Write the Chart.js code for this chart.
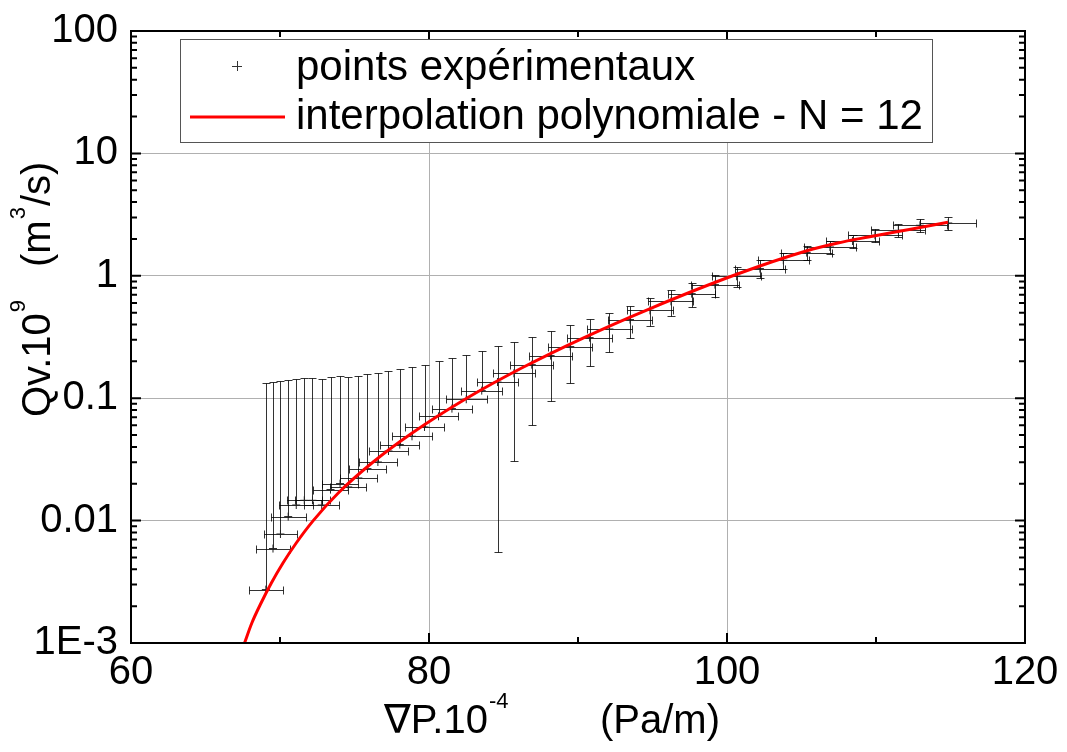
<!DOCTYPE html>
<html>
<head>
<meta charset="utf-8">
<title>Qv vs gradient de pression</title>
<script src="https://cdn.jsdelivr.net/npm/chart.js@4.4.0/dist/chart.umd.min.js"></script>
<style>
  html, body { margin: 0; padding: 0; background: #fff; }
  #wrap { width: 1067px; height: 752px; }
</style>
</head>
<body>
<div id="wrap"><canvas id="qvChart" width="1067" height="752"></canvas></div>
<script>
/* ========================================
   Data
   ======================================== */

// Experimental points: pressure gradient (x) and flow rate (y)
const gradP = [69.05, 69.53, 70.03, 70.55, 71.09, 71.63, 72.18, 72.80, 73.39, 74.03,
               74.58, 75.26, 75.87, 76.57, 77.28, 78.04, 78.86, 79.70, 80.64, 81.54,
               82.50, 83.54, 84.60, 85.70, 86.90, 88.16, 89.48, 90.78, 92.11, 93.49,
               94.83, 96.24, 97.63, 99.19, 100.65, 102.21, 103.78, 105.35, 106.91, 108.43,
               109.93, 111.50, 112.95, 114.85];
const flow = [0.00273, 0.00591, 0.00777, 0.01078, 0.01341, 0.01465, 0.01465, 0.01341, 0.01792, 0.02006,
              0.01882, 0.02229, 0.02659, 0.03012, 0.03703, 0.04178, 0.04883, 0.0582, 0.0711, 0.0822,
              0.098, 0.1153, 0.1355, 0.1597, 0.188, 0.2229, 0.2639, 0.3126, 0.3675, 0.4385,
              0.522, 0.619, 0.715, 0.847, 0.991, 1.145, 1.339, 1.547, 1.719, 1.924,
              2.143, 2.354, 2.586, 2.700];

// Half widths of the error bars
const gradPErr = [1.13, 1.16, 1.13, 1.17, 1.15, 1.18, 1.18, 1.19, 1.20, 1.22,
                  1.22, 1.23, 1.24, 1.26, 1.29, 1.31, 1.32, 1.33, 1.33, 1.36,
                  1.36, 1.39, 1.40, 1.43, 1.44, 1.47, 1.49, 1.50, 1.51, 1.50,
                  1.52, 1.51, 1.56, 1.62, 1.64, 1.67, 1.69, 1.72, 1.74, 1.77,
                  1.79, 1.82, 1.84, 1.88];
const flowErr = [0.130, 0.130, 0.131, 0.131, 0.131, 0.131, 0.131, 0.131, 0.131, 0.131,
                 0.130, 0.130, 0.130, 0.130, 0.131, 0.131, 0.131, 0.130, 0.130, 0.131,
                 0.127, 0.128, 0.130, 0.129, 0.128, 0.128, 0.130, 0.128, 0.128, 0.130,
                 0.135, 0.15, 0.16, 0.17, 0.18, 0.19, 0.20, 0.21, 0.22, 0.24,
                 0.26, 0.28, 0.30, 0.33];

// Polynomial fit (N = 12), sampled along the red curve
const fitX = [67.62, 68.11, 68.73, 69.42, 70.20, 71.09, 72.23, 73.91, 76.17, 78.87,
              82.56, 86.22, 90.34, 94.93, 100.52, 105.31, 107.44, 109.49, 112.42, 114.83];
const fitY = [0.00100, 0.001457, 0.002122, 0.003092, 0.004504, 0.006561, 0.0100, 0.01681, 0.02955, 0.05195,
              0.1004, 0.1765, 0.3102, 0.5455, 1.015, 1.594, 1.854, 2.075, 2.413, 2.736];

// Axes
const xTicks = [60, 80, 100, 120];
const xMinorTicks = [70, 90, 110];
const yTicks = [0.001, 0.01, 0.1, 1, 10, 100];
const yTickLabels = ['1E-3', '0.01', '0.1', '1', '10', '100'];
const seriesLabels = ['points expérimentaux', 'interpolation polynomiale - N = 12'];

const FONT = "'Liberation Sans', Arial, 'DejaVu Sans', sans-serif";

// Crisp 1px lines
const crisp = v => Math.round(v) + 0.5;

// Error bars (drawn under the markers and the fit)
const errorBars = {
    id: 'errorBars',
    beforeDatasetsDraw(chart) {
        const { ctx, chartArea: a, scales: { x, y } } = chart;
        const cap = 4;
        ctx.save();
        ctx.beginPath();
        ctx.rect(a.left, a.top, a.width, a.height);
        ctx.clip();
        ctx.strokeStyle = 'rgba(0, 0, 0, 0.8)';
        ctx.lineWidth = 1;
        ctx.beginPath();
        gradP.forEach((gx, i) => {
            const px = crisp(x.getPixelForValue(gx));
            const py = crisp(y.getPixelForValue(flow[i]));
            const xl = crisp(x.getPixelForValue(gx - gradPErr[i]));
            const xr = crisp(x.getPixelForValue(gx + gradPErr[i]));
            // horizontal bar
            ctx.moveTo(xl, py); ctx.lineTo(xr, py);
            ctx.moveTo(xl, py - cap); ctx.lineTo(xl, py + cap);
            ctx.moveTo(xr, py - cap); ctx.lineTo(xr, py + cap);
            // vertical bar (lower part dropped when it goes below zero)
            const hi = crisp(y.getPixelForValue(flow[i] + flowErr[i]));
            const lowVal = flow[i] - flowErr[i];
            const lo = lowVal > 0 ? crisp(y.getPixelForValue(lowVal)) : py;
            ctx.moveTo(px, hi); ctx.lineTo(px, lo);
            ctx.moveTo(px - cap, hi); ctx.lineTo(px + cap, hi);
            if (lowVal > 0) {
                ctx.moveTo(px - cap, lo); ctx.lineTo(px + cap, lo);
            }
        });
        ctx.stroke();
        ctx.restore();
    }
};

// Box around the plot with inward ticks on every side
const frame = {
    id: 'frame',
    afterDraw(chart) {
        const { ctx, chartArea: a, scales: { x, y } } = chart;
        const major = 10, minor = 6;
        ctx.save();
        ctx.strokeStyle = '#000';
        ctx.lineWidth = 2;
        ctx.beginPath();
        xTicks.concat(xMinorTicks).forEach(v => {
            const px = x.getPixelForValue(v);
            const len = xTicks.includes(v) ? major : minor;
            ctx.moveTo(px, a.bottom); ctx.lineTo(px, a.bottom - len);
            ctx.moveTo(px, a.top); ctx.lineTo(px, a.top + len);
        });
        yTicks.forEach((d, k) => {
            const py = y.getPixelForValue(d);
            ctx.moveTo(a.left, py); ctx.lineTo(a.left + major, py);
            ctx.moveTo(a.right, py); ctx.lineTo(a.right - major, py);
            if (k === yTicks.length - 1) return;
            for (let m = 2; m <= 9; m++) {
                const pm = y.getPixelForValue(d * m);
                ctx.moveTo(a.left, pm); ctx.lineTo(a.left + minor, pm);
                ctx.moveTo(a.right, pm); ctx.lineTo(a.right - minor, pm);
            }
        });
        ctx.stroke();
        ctx.strokeRect(a.left, a.top, a.width, a.height);
        ctx.restore();
    }
};

// Legend box inside the plot
const legendBox = {
    id: 'legendBox',
    afterDraw(chart) {
        const { ctx, chartArea: a } = chart;
        const left = a.left + 49, top = a.top + 8, w = 752, h = 103;
        ctx.save();
        ctx.fillStyle = '#fff';
        ctx.fillRect(left, top, w, h);
        ctx.strokeStyle = '#555';
        ctx.lineWidth = 1;
        ctx.strokeRect(crisp(left), crisp(top), w, h);

        // cross marker
        ctx.strokeStyle = '#333';
        ctx.beginPath();
        ctx.moveTo(left + 52, crisp(top + 27)); ctx.lineTo(left + 62, crisp(top + 27));
        ctx.moveTo(crisp(left + 57), top + 22); ctx.lineTo(crisp(left + 57), top + 32);
        ctx.stroke();

        // red line
        ctx.strokeStyle = '#ff0000';
        ctx.lineWidth = 3;
        ctx.beginPath();
        ctx.moveTo(left + 10, top + 78); ctx.lineTo(left + 105, top + 78);
        ctx.stroke();

        ctx.fillStyle = '#000';
        ctx.font = '42px ' + FONT;
        ctx.textBaseline = 'alphabetic';
        ctx.fillText(seriesLabels[0], left + 116, top + 41);
        ctx.fillText(seriesLabels[1], left + 116, top + 90);
        ctx.restore();
    }
};

// Axis titles with superscripts
const axisTitles = {
    id: 'axisTitles',
    afterDraw(chart) {
        const { ctx } = chart;
        const big = '40px ' + FONT, small = '22px ' + FONT;
        ctx.save();
        ctx.fillStyle = '#000';
        ctx.textBaseline = 'alphabetic';

        // x title
        let cx = 384;
        const base = 733;
        ctx.font = big;
        ctx.fillText('\u2207P.10', cx, base);
        cx += ctx.measureText('\u2207P.10').width + 1;
        ctx.font = small;
        ctx.fillText('-4', cx, base - 25);
        ctx.font = big;
        ctx.textAlign = 'right';
        ctx.fillText('(Pa/m)', 720, base);
        ctx.textAlign = 'left';

        // y title, rotated
        ctx.translate(50, 417);
        ctx.rotate(-Math.PI / 2);
        let ty = 0;
        ctx.font = big;
        ctx.fillText('Qv.10', ty, 0);
        ty += ctx.measureText('Qv.10').width + 1;
        ctx.font = small;
        ctx.fillText('9', ty, -25);
        ty = 150;
        ctx.font = big;
        ctx.fillText('(m', ty, 0);
        ty += ctx.measureText('(m').width + 1;
        ctx.font = small;
        ctx.fillText('3', ty, -25);
        ty += ctx.measureText('3').width + 1;
        ctx.font = big;
        ctx.fillText('/s)', ty, 0);
        ctx.restore();
    }
};

new Chart(document.getElementById('qvChart'), {
    type: 'scatter',
    data: {
        datasets: [
            {
                label: seriesLabels[0],
                data: gradP.map((gx, i) => ({ x: gx, y: flow[i] })),
                pointStyle: 'cross',
                pointRadius: 4,
                borderColor: '#222',
                borderWidth: 1,
                showLine: false,
                order: 1
            },
            {
                label: seriesLabels[1],
                type: 'line',
                data: fitX.map((fx, i) => ({ x: fx, y: fitY[i] })),
                borderColor: '#ff0000',
                borderWidth: 3,
                pointRadius: 0,
                fill: false,
                cubicInterpolationMode: 'monotone',
                order: 0
            }
        ]
    },
    options: {
        responsive: false,
        animation: false,
        layout: { padding: { left: 0, top: 31, right: 42, bottom: 0 } },
        plugins: {
            legend: { display: false },
            tooltip: { enabled: false }
        },
        scales: {
            x: {
                type: 'linear',
                min: 60,
                max: 120,
                afterBuildTicks: scale => { scale.ticks = xTicks.map(v => ({ value: v })); },
                afterFit: scale => {
                    scale.height = 109;
                    scale.paddingLeft = 0;
                    scale.paddingRight = 0;
                },
                ticks: {
                    font: { family: FONT, size: 40 },
                    color: '#000',
                    padding: 6,
                    maxRotation: 0,
                    autoSkip: false
                },
                grid: { color: '#b0b0b0', lineWidth: 1, drawTicks: false },
                border: { display: false }
            },
            y: {
                type: 'logarithmic',
                min: 0.001,
                max: 100,
                afterBuildTicks: scale => { scale.ticks = yTicks.map(v => ({ value: v })); },
                afterFit: scale => {
                    scale.width = 131;
                    scale.paddingTop = 0;
                    scale.paddingBottom = 0;
                },
                ticks: {
                    callback: (value, index) => yTickLabels[index],
                    font: { family: FONT, size: 40 },
                    color: '#000',
                    padding: 13,
                    autoSkip: false
                },
                grid: { color: '#b0b0b0', lineWidth: 1, drawTicks: false },
                border: { display: false }
            }
        }
    },
    plugins: [errorBars, frame, legendBox, axisTitles]
});
</script>
</body>
</html>
